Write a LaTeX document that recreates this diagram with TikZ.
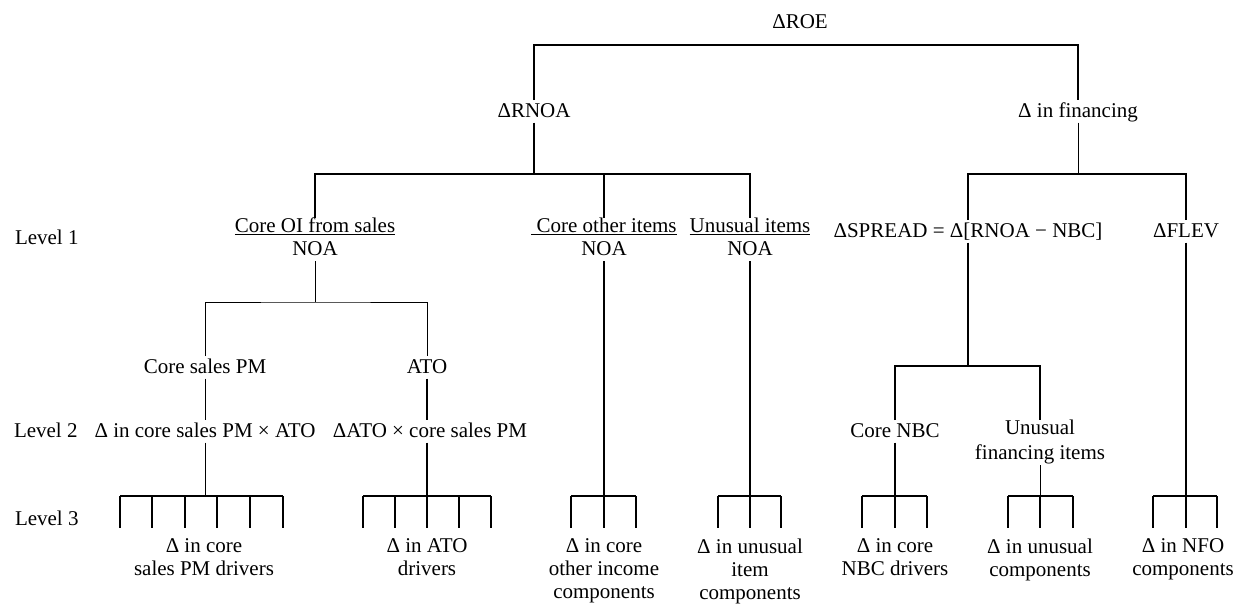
\documentclass[tikz,border=0pt]{standalone}
\usepackage{fontspec}
\setmainfont{Liberation Serif}
\newcommand\mystrut{\rule[-5.5pt]{0pt}{22.5pt}}
\tikzset{
  lbl/.style={inner sep=0pt, outer sep=0pt, font=\fontsize{21}{23}\selectfont,
    align=center, execute at begin node=\mystrut, execute at end node=\mystrut},
  thinl/.style={line width=1pt},
  medl/.style={line width=1.25pt},
  boldl/.style={line width=1.6pt},
}
\begin{document}
\begin{tikzpicture}[x=1pt,y=-1pt]
\useasboundingbox (0,0) rectangle (1237,605);
% level texts
\node[lbl,anchor=base west] (lev1) at (15,244) {Level 1};
\node[lbl,anchor=base west] (lev2) at (14,437) {Level 2};
\node[lbl,anchor=base west] (lev3) at (15,525) {Level 3};
% top
\node[lbl,anchor=base] (roe) at (800,28) {ΔROE};
\node[lbl,anchor=base] (rnoa) at (534,117) {ΔRNOA};
\node[lbl,anchor=base] (fin) at (1078,117) {Δ in financing};
% level 1
\node[lbl,anchor=north] (coreoi) at (315,218) {\underline{Core OI from sales}\\NOA};
\node[lbl,anchor=north] (coreother) at (604,218) {\underline{\ Core other items}\\NOA};
\node[lbl,anchor=north] (unus) at (750,218) {\underline{Unusual items}\\NOA};
\node[lbl,anchor=base] (spread) at (968,237) {ΔSPREAD = Δ[RNOA − NBC]};
\node[lbl,anchor=base] (flev) at (1186,237) {ΔFLEV};
% level 2 area
\node[lbl,anchor=base] (cspm) at (205,373) {Core sales PM};
\node[lbl,anchor=base] (ato) at (427,373) {ATO};
\node[lbl,anchor=base] (dcore) at (205,437) {Δ in core sales PM × ATO};
\node[lbl,anchor=base] (dato) at (430,437) {ΔATO × core sales PM};
\node[lbl,anchor=base] (corenbc) at (895,437) {Core NBC};
\node[lbl,anchor=north,font=\fontsize{21}{25}\selectfont] (unfin) at (1040,420) {Unusual\\financing items};
% bottom labels
\node[lbl,anchor=north] (t1) at (204,539) {Δ in core\\sales PM drivers};
\node[lbl,anchor=north] (t2) at (427,539) {Δ in ATO\\drivers};
\node[lbl,anchor=north] (t3) at (604,539) {Δ in core\\other income\\components};
\node[lbl,anchor=north] (t4) at (750,539) {Δ in unusual\\item\\components};
\node[lbl,anchor=north] (t5) at (895,539) {Δ in core\\NBC drivers};
\node[lbl,anchor=north] (t6) at (1040,539) {Δ in unusual\\components};
\node[lbl,anchor=north] (t7) at (1183,539) {Δ in NFO\\components};
% coordinates of bars
\coordinate (tb) at (800,45);
\coordinate (b1) at (534,174);
\coordinate (b2) at (1078,174);
\coordinate (b3) at (968,366);
\coordinate (b4) at (315,302);
% connectors
\draw[medl] (rnoa) |- (tb) -| (fin);
\draw[boldl] (rnoa) -- (rnoa |- b1);
\draw[boldl] (coreoi) |- (b1) -| (unus);
\draw[boldl] (coreother) -- (coreother |- b1);
\draw[thinl] (fin) -- (fin |- b2);
\draw[boldl] (spread) |- (b2) -| (flev);
\draw[thinl] (coreoi) -- (coreoi |- b4);
\draw[thinl] (cspm) |- (b4) -| (ato);
\draw[thinl] (cspm) -- (cspm |- dcore.north);
\draw[medl] (ato) -- (ato |- dato.north);
\draw[boldl] (spread) -- (spread |- b3);
\draw[medl] (corenbc) |- (b3) -| (unfin);
% level 3 bars
\foreach \g/\a/\b in {g1/120/283, g2/363/491, g3/571/636, g4/718/781, g5/862/927, g6/1008/1073, g7/1153/1217}{
  \coordinate (\g L) at (\a,496);
  \coordinate (\g R) at (\b,496);
  \draw[medl] (\g L) -- (\g R);
}
\foreach \x in {120,152,185,217,250,283,363,395,427,459,491,571,604,636,718,750,781,862,895,927,1008,1040,1073,1153,1186,1217}
  \draw[medl] (\x,496) -- (\x,528);
\draw[thinl] (cspm |- dcore.south) -- (cspm |- g1L);
\draw[medl] (ato |- dato.south) -- (ato |- g2L);
\draw[boldl] (coreother) -- (coreother |- g3L);
\draw[medl] (unus) -- (unus |- g4L);
\draw[boldl] (corenbc) -- (corenbc |- g5L);
\draw[thinl] (unfin) -- (unfin |- g6L);
\draw[boldl] (flev) -- (flev |- g7L);
\end{tikzpicture}
\end{document}
